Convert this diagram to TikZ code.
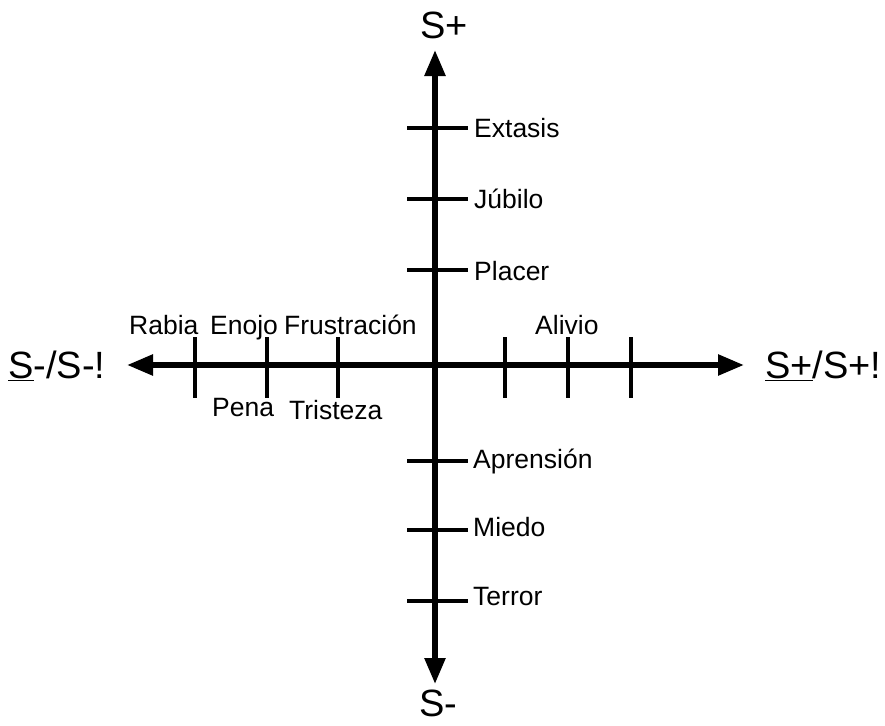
\documentclass[tikz,border=0pt]{standalone}
\usepackage{fontspec}
\setmainfont{Liberation Sans}
\usetikzlibrary{arrows.meta}
\begin{document}
\begin{tikzpicture}[x=1pt,y=-1pt,
  axis/.style={line width=5.5pt,-{Triangle[length=26pt,width=20pt]}},
  tick/.style={line width=3.5pt},
  lbl/.style={font=\fontsize{26.5}{30}\selectfont,inner sep=0pt},
  big/.style={font=\fontsize{38}{44}\selectfont,inner sep=0pt}]
\useasboundingbox (0,0) rectangle (885,725);
% axes
\coordinate (O) at (435,365);
\coordinate (T) at (435,50);
\coordinate (B) at (435,684);
\coordinate (L) at (127,365);
\coordinate (R) at (744,365);
\draw[axis] (O) -- (T);
\draw[axis] (O) -- (B);
\draw[axis] (O) -- (L);
\draw[axis] (O) -- (R);
% vertical ticks
\foreach \n/\y in {t1/128,t2/199,t3/270,t4/461,t5/530,t6/601}{
  \coordinate (\n a) at (407,\y); \coordinate (\n b) at (468,\y);
  \draw[tick] (\n a) -- (\n b);}
% horizontal ticks
\foreach \n/\x in {h1/195,h2/267,h3/338,h4/505,h5/568,h6/631}{
  \coordinate (\n a) at (\x,337); \coordinate (\n b) at (\x,398);
  \draw[tick] (\n a) -- (\n b);}
% vertical labels
\node[lbl,anchor=west] (ext) at (474,128) {Extasis};
\node[lbl,anchor=west] (jub) at (474,199) {Júbilo};
\node[lbl,anchor=west] (pla) at (474,271) {Placer};
\node[lbl,anchor=west] (apr) at (473,461) {Aprensión};
\node[lbl,anchor=west] (mie) at (473,527) {Miedo};
\node[lbl,anchor=west] (ter) at (473,597) {Terror};
% horizontal labels
\node[lbl,anchor=base west] (rab) at (129,334) {Rabia};
\node[lbl,anchor=base west] (eno) at (210,334) {Enojo};
\node[lbl,anchor=base west] (fru) at (284,334) {Frustración};
\node[lbl,anchor=base west] (ali) at (535,334) {Alivio};
\node[lbl,anchor=base west] (pen) at (212,416) {Pena};
\node[lbl,anchor=base west] (tri) at (289,419) {Tristeza};
% axis end labels
\node[big,anchor=base] (sp) at (444,38) {S+};
\node[big,anchor=base] (sm) at (438,716) {S-};
\node[big,anchor=base west] (sl) at (8,378) {\underline{S}-/S-!};
\node[big,anchor=base west] (sr) at (765,378) {\underline{S+}/S+!};
\end{tikzpicture}
\end{document}
